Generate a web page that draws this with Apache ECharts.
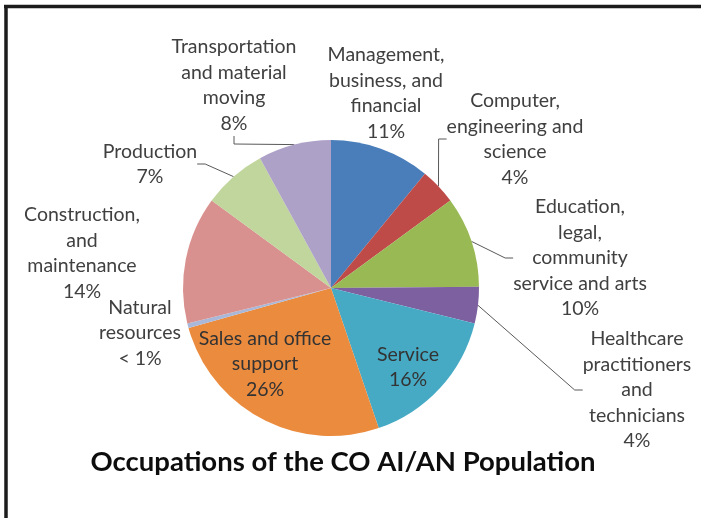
<!DOCTYPE html>
<html>
<head>
<meta charset="utf-8">
<script src="https://cdn.jsdelivr.net/npm/echarts@6/dist/echarts.min.js"></script>
<style>
  html, body { margin: 0; padding: 0; background: #fff; }
  #chart { width: 701px; height: 518px; }
</style>
</head>
<body>
<div id="chart"></div>
<script>
// slices, clockwise from 12 o'clock
const categories = [
  'Management,\nbusiness, and\nfinancial',
  'Computer,\nengineering and\nscience',
  'Education,\nlegal,\ncommunity\nservice and arts',
  'Healthcare\npractitioners\nand\ntechnicians',
  'Service',
  'Sales and office\nsupport',
  'Natural\nresources',
  'Construction,\nand\nmaintenance',
  'Production',
  'Transportation\nand material\nmoving'
]
const values = [11, 4, 10, 4, 16, 26, 0.5, 14, 7, 8]
const pctLabels = ['11%', '4%', '10%', '4%', '16%', '26%', '< 1%', '14%', '7%', '8%']

const colors = ['#4A7EBB', '#BE4B48', '#98B954', '#7D60A0', '#46AAC5', '#EB8B3E',
  '#A9B8D8', '#D9918F', '#C0D69C', '#AEA1C7']

// label centres, leader line on/off
const labelPos = [[386, 93], [515, 139], [580, 258], [637, 390], [408, 367],
  [265, 364], [140, 333], [82, 253], [150, 164], [234, 85]]
const withLine = [false, true, true, true, false, false, false, false, true, true]

const chart = echarts.init(document.getElementById('chart'))

chart.setOption({
  backgroundColor: '#fff',
  animation: false,
  title: {
    text: 'Occupations of the CO AI/AN Population',
    left: 338,
    textAlign: 'center',
    top: 443,
    textStyle: {
      fontFamily: 'Lato',
      fontWeight: 'bold',
      fontSize: 27.5,
      color: '#0d0d0d'
    }
  },
  graphic: [
    { type: 'line', shape: { x1: 4, y1: 6.5, x2: 701, y2: 6.5 }, style: { stroke: '#1c1c1c', lineWidth: 3.5 } },
    { type: 'line', shape: { x1: 6, y1: 5, x2: 6, y2: 518 }, style: { stroke: '#1c1c1c', lineWidth: 3.5 } }
  ],
  series: [{
    type: 'pie',
    center: [331, 288],
    radius: 148,
    startAngle: 90,
    clockwise: true,
    minAngle: 0,
    avoidLabelOverlap: false,
    itemStyle: { borderWidth: 0 },
    label: {
      show: true,
      fontFamily: 'Lato',
      fontSize: 19.5,
      lineHeight: 25.5,
      color: '#404040',
      align: 'center',
      formatter: function(p) {
        return p.name + '\n' + pctLabels[p.dataIndex]
      }
    },
    labelLine: {
      show: true,
      length: 10,
      length2: 8,
      lineStyle: { color: '#595959', width: 1 }
    },
    labelLayout: function(params) {
      const pos = labelPos[params.dataIndex]
      return { x: pos[0], y: pos[1], align: 'center', verticalAlign: 'middle' }
    },
    data: categories.map(function(name, i) {
      return {
        name: name,
        value: values[i],
        itemStyle: { color: colors[i] },
        label: (i === 4 || i === 5) ? { position: 'inside', color: '#333' } : {},
        labelLine: { show: withLine[i] }
      }
    })
  }]
})
</script>
</body>
</html>
